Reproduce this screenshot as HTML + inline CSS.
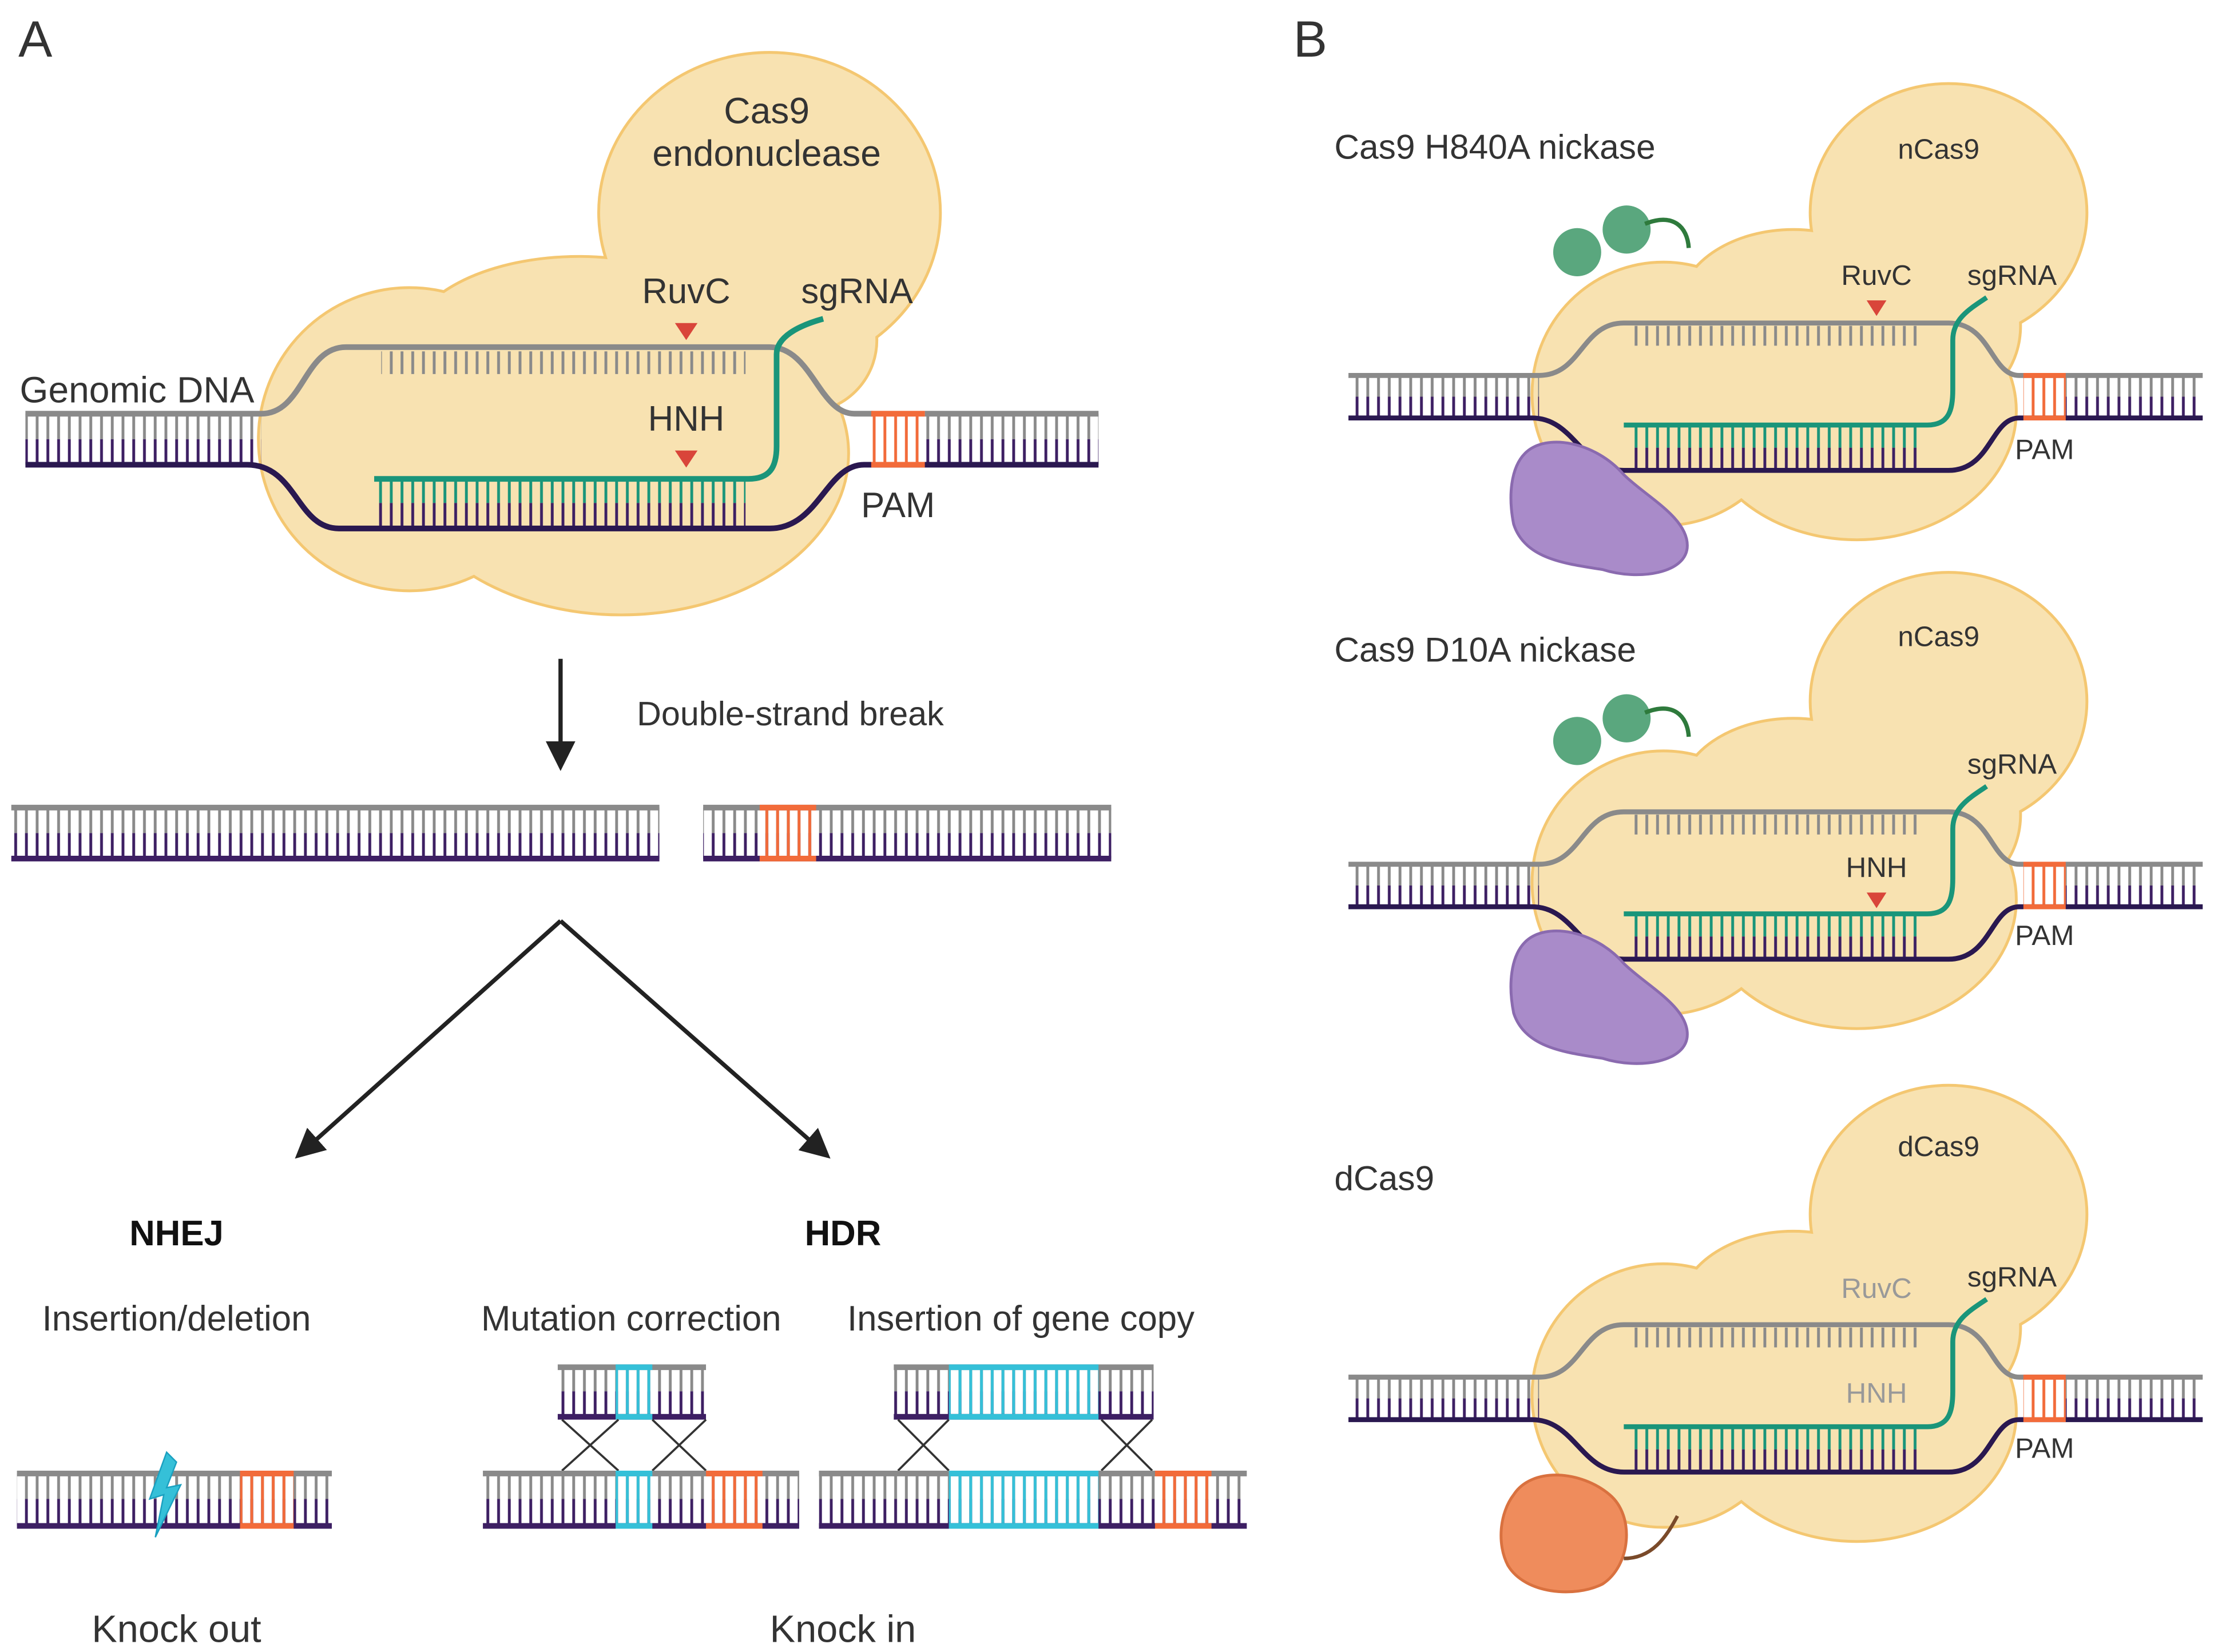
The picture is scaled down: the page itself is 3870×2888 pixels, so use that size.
<!DOCTYPE html>
<html><head><meta charset="utf-8"><style>
html,body{margin:0;padding:0;background:#fff;}
svg{display:block;}
text{font-family:"Liberation Sans",sans-serif;fill:#333;}
</style></head><body>
<svg width="3870" height="2888" viewBox="0 0 1568 1166" preserveAspectRatio="none" xmlns="http://www.w3.org/2000/svg">
<defs>
<pattern id="rg" width="7.6" height="2000" patternUnits="userSpaceOnUse"><rect x="2.5" y="0" width="2" height="2000" fill="#8a8a8a"/></pattern>
<pattern id="rp" width="7.6" height="2000" patternUnits="userSpaceOnUse"><rect x="2.5" y="0" width="2" height="2000" fill="#3d1f63"/></pattern>
<pattern id="rt" width="7.6" height="2000" patternUnits="userSpaceOnUse"><rect x="2.5" y="0" width="2" height="2000" fill="#1a957a"/></pattern>
<pattern id="ro" width="7.6" height="2000" patternUnits="userSpaceOnUse"><rect x="2.5" y="0" width="2" height="2000" fill="#f26b3a"/></pattern>
<pattern id="rc" width="7.6" height="2000" patternUnits="userSpaceOnUse"><rect x="2.5" y="0" width="2" height="2000" fill="#35c0d8"/></pattern>
<marker id="ah" viewBox="0 0 10 10" refX="8" refY="5" markerWidth="7" markerHeight="7" orient="auto"><path d="M0,0 L10,5 L0,10 z" fill="#222"/></marker>

<g id="blobB">
 <ellipse cx="1380" cy="150" rx="97" ry="90"/>
 <circle cx="1178" cy="278" r="92"/>
 <ellipse cx="1315" cy="290" rx="112" ry="90"/>
 <ellipse cx="1270" cy="218" rx="80" ry="55"/>
 <ellipse cx="1390" cy="230" rx="40" ry="50"/>
</g>
<g id="panel">
 <use href="#blobB" fill="#f4c771" stroke="#f4c771" stroke-width="4"/>
 <use href="#blobB" fill="#f8e2b1"/>
 <rect x="955" y="265" width="135" height="15" fill="url(#rg)"/>
 <rect x="955" y="280" width="135" height="15" fill="url(#rp)"/>
 <rect x="1155" y="230" width="205" height="14" fill="url(#rg)"/>
 <rect x="1155" y="300" width="205" height="16" fill="url(#rt)"/>
 <rect x="1155" y="316" width="205" height="16" fill="url(#rp)"/>
 <rect x="1463" y="265" width="97" height="15" fill="url(#rg)"/>
 <rect x="1463" y="280" width="97" height="15" fill="url(#rp)"/>
 <rect x="1433" y="265" width="30" height="30" fill="url(#ro)"/>
 <path d="M955,265 L1090,265 C1120,265 1120,228 1150,228 L1380,228 C1410,228 1410,265 1430,265 L1560,265" fill="none" stroke="#8a8a8a" stroke-width="3.5"/>
 <path d="M955,295 L1085,295 C1115,295 1120,332 1150,332 L1380,332 C1410,332 1410,295 1430,295 L1560,295" fill="none" stroke="#2a1850" stroke-width="3.5"/>
 <line x1="1433" y1="265" x2="1463" y2="265" stroke="#f26b3a" stroke-width="3.5"/>
 <line x1="1433" y1="295" x2="1463" y2="295" stroke="#f26b3a" stroke-width="3.5"/>
 <path d="M1150,300 L1365,300 C1380,300 1383,290 1383,275 L1383,240 C1383,225 1395,218 1407,210" fill="none" stroke="#1a957a" stroke-width="3.5"/>
</g>
<g id="green">
 <circle cx="1117" cy="178" r="17" fill="#5aa77e"/>
 <circle cx="1152" cy="162" r="17" fill="#5aa77e"/>
 <path d="M1165,158 C1185,150 1195,160 1196,175" fill="none" stroke="#2e7a3c" stroke-width="3"/>
</g>
<g id="purp">
 <path d="M1080,320 C1095,305 1130,312 1150,335 C1165,350 1195,365 1195,385 C1195,405 1160,410 1135,402 C1110,398 1080,395 1072,370 C1068,350 1070,330 1080,320z" fill="#a98bc9" stroke="#8a6aaf" stroke-width="2"/>
</g>
<g id="blobA">
 <ellipse cx="545" cy="150" rx="120" ry="112"/>
 <circle cx="290" cy="310" r="106"/>
 <ellipse cx="440" cy="320" rx="160" ry="113"/>
 <ellipse cx="410" cy="245" rx="120" ry="63"/>
 <ellipse cx="570" cy="240" rx="50" ry="50"/>
</g>
</defs>

<!-- ===== A ===== -->
<text x="13" y="40" font-size="36">A</text>
<use href="#blobA" fill="#f4c771" stroke="#f4c771" stroke-width="4"/>
<use href="#blobA" fill="#f8e2b1"/>
<text x="543" y="87" font-size="26" text-anchor="middle">Cas9</text>
<text x="543" y="117" font-size="26" text-anchor="middle">endonuclease</text>

<rect x="18" y="292" width="167" height="18" fill="url(#rg)"/>
<rect x="18" y="310" width="167" height="18" fill="url(#rp)"/>
<rect x="270" y="248" width="258" height="16" fill="url(#rg)"/>
<rect x="265" y="338" width="263" height="17" fill="url(#rt)"/>
<rect x="265" y="355" width="263" height="18" fill="url(#rp)"/>
<rect x="617" y="292" width="38" height="36" fill="url(#ro)"/>
<rect x="655" y="292" width="123" height="18" fill="url(#rg)"/>
<rect x="655" y="310" width="123" height="18" fill="url(#rp)"/>
<path d="M18,292 L185,292 C215,292 215,245 245,245 L545,245 C575,245 580,292 605,292 L618,292 M655,292 L778,292" fill="none" stroke="#8a8a8a" stroke-width="4"/>
<path d="M18,328 L175,328 C210,328 210,373 240,373 L545,373 C580,373 585,328 612,328 L778,328" fill="none" stroke="#2a1850" stroke-width="4"/>
<line x1="617" y1="292" x2="655" y2="292" stroke="#f26b3a" stroke-width="4"/>
<line x1="617" y1="328" x2="655" y2="328" stroke="#f26b3a" stroke-width="4"/>
<path d="M265,338 L530,338 C545,338 550,330 550,315 L550,250 C550,238 565,230 583,225" fill="none" stroke="#1a957a" stroke-width="4"/>
<path d="M478,228 L494,228 L486,240z" fill="#d9453a"/>
<path d="M478,318 L494,318 L486,330z" fill="#d9453a"/>
<text x="14" y="284" font-size="26">Genomic DNA</text>
<text x="486" y="214" font-size="25" text-anchor="middle">RuvC</text>
<text x="486" y="304" font-size="25" text-anchor="middle">HNH</text>
<text x="607" y="214" font-size="25" text-anchor="middle">sgRNA</text>
<text x="636" y="365" font-size="25" text-anchor="middle">PAM</text>

<line x1="397" y1="465" x2="397" y2="540" stroke="#222" stroke-width="3" marker-end="url(#ah)"/>
<text x="451" y="512" font-size="24">Double-strand break</text>

<rect x="8" y="570" width="459" height="18" fill="url(#rg)"/>
<rect x="8" y="588" width="459" height="18" fill="url(#rp)"/>
<line x1="8" y1="570" x2="467" y2="570" stroke="#8a8a8a" stroke-width="4"/>
<line x1="8" y1="606" x2="467" y2="606" stroke="#3d1f63" stroke-width="4"/>
<rect x="498" y="570" width="289" height="18" fill="url(#rg)"/>
<rect x="498" y="588" width="289" height="18" fill="url(#rp)"/>
<rect x="538" y="570" width="40" height="36" fill="url(#ro)"/>
<line x1="498" y1="570" x2="787" y2="570" stroke="#8a8a8a" stroke-width="4"/>
<line x1="538" y1="570" x2="578" y2="570" stroke="#f26b3a" stroke-width="4"/>
<line x1="498" y1="606" x2="787" y2="606" stroke="#3d1f63" stroke-width="4"/>
<line x1="538" y1="606" x2="578" y2="606" stroke="#f26b3a" stroke-width="4"/>

<line x1="397" y1="650" x2="212" y2="815" stroke="#222" stroke-width="3" marker-end="url(#ah)"/>
<line x1="397" y1="650" x2="585" y2="815" stroke="#222" stroke-width="3" marker-end="url(#ah)"/>

<text x="125" y="879" font-size="25" font-weight="bold" text-anchor="middle" style="fill:#111">NHEJ</text>
<text x="597" y="879" font-size="25" font-weight="bold" text-anchor="middle" style="fill:#111">HDR</text>
<text x="125" y="939" font-size="25" text-anchor="middle">Insertion/deletion</text>
<text x="447" y="939" font-size="25" text-anchor="middle">Mutation correction</text>
<text x="723" y="939" font-size="25" text-anchor="middle">Insertion of gene copy</text>

<!-- NHEJ dna -->
<rect x="12" y="1040" width="223" height="18" fill="url(#rg)"/>
<rect x="12" y="1058" width="223" height="19" fill="url(#rp)"/>
<rect x="170" y="1040" width="38" height="37" fill="url(#ro)"/>
<line x1="12" y1="1040" x2="235" y2="1040" stroke="#8a8a8a" stroke-width="4"/>
<line x1="12" y1="1077" x2="235" y2="1077" stroke="#3d1f63" stroke-width="4"/>
<line x1="170" y1="1040" x2="208" y2="1040" stroke="#f26b3a" stroke-width="4"/>
<line x1="170" y1="1077" x2="208" y2="1077" stroke="#f26b3a" stroke-width="4"/>
<path d="M118,1025 L106,1058 L116,1055 L110,1085 L128,1048 L118,1050 L125,1032z" fill="#35c0d8" stroke="#1aa0c0" stroke-width="1"/>

<!-- Mutation correction -->
<rect x="395" y="965" width="105" height="17" fill="url(#rg)"/>
<rect x="395" y="982" width="105" height="18" fill="url(#rp)"/>
<rect x="436" y="965" width="26" height="35" fill="url(#rc)"/>
<line x1="395" y1="965" x2="500" y2="965" stroke="#8a8a8a" stroke-width="4"/>
<line x1="436" y1="965" x2="462" y2="965" stroke="#35c0d8" stroke-width="4"/>
<line x1="395" y1="1000" x2="500" y2="1000" stroke="#3d1f63" stroke-width="4"/>
<line x1="436" y1="1000" x2="462" y2="1000" stroke="#35c0d8" stroke-width="4"/>
<path d="M398,1002 L438,1038 M438,1002 L398,1038 M462,1002 L500,1038 M500,1002 L462,1038" stroke="#333" stroke-width="1.5"/>
<rect x="342" y="1040" width="224" height="18" fill="url(#rg)"/>
<rect x="342" y="1058" width="224" height="19" fill="url(#rp)"/>
<rect x="436" y="1040" width="26" height="37" fill="url(#rc)"/>
<rect x="500" y="1040" width="40" height="37" fill="url(#ro)"/>
<line x1="342" y1="1040" x2="566" y2="1040" stroke="#8a8a8a" stroke-width="4"/>
<line x1="436" y1="1040" x2="462" y2="1040" stroke="#35c0d8" stroke-width="4"/>
<line x1="500" y1="1040" x2="540" y2="1040" stroke="#f26b3a" stroke-width="4"/>
<line x1="342" y1="1077" x2="566" y2="1077" stroke="#3d1f63" stroke-width="4"/>
<line x1="436" y1="1077" x2="462" y2="1077" stroke="#35c0d8" stroke-width="4"/>
<line x1="500" y1="1077" x2="540" y2="1077" stroke="#f26b3a" stroke-width="4"/>

<!-- Insertion of gene copy -->
<rect x="633" y="965" width="184" height="17" fill="url(#rg)"/>
<rect x="633" y="982" width="184" height="18" fill="url(#rp)"/>
<rect x="672" y="965" width="106" height="35" fill="url(#rc)"/>
<line x1="633" y1="965" x2="817" y2="965" stroke="#8a8a8a" stroke-width="4"/>
<line x1="672" y1="965" x2="778" y2="965" stroke="#35c0d8" stroke-width="4"/>
<line x1="633" y1="1000" x2="817" y2="1000" stroke="#3d1f63" stroke-width="4"/>
<line x1="672" y1="1000" x2="778" y2="1000" stroke="#35c0d8" stroke-width="4"/>
<path d="M636,1002 L672,1038 M672,1002 L636,1038 M780,1002 L816,1038 M816,1002 L780,1038" stroke="#333" stroke-width="1.5"/>
<rect x="580" y="1040" width="303" height="18" fill="url(#rg)"/>
<rect x="580" y="1058" width="303" height="19" fill="url(#rp)"/>
<rect x="672" y="1040" width="106" height="37" fill="url(#rc)"/>
<rect x="818" y="1040" width="40" height="37" fill="url(#ro)"/>
<line x1="580" y1="1040" x2="883" y2="1040" stroke="#8a8a8a" stroke-width="4"/>
<line x1="672" y1="1040" x2="778" y2="1040" stroke="#35c0d8" stroke-width="4"/>
<line x1="818" y1="1040" x2="858" y2="1040" stroke="#f26b3a" stroke-width="4"/>
<line x1="580" y1="1077" x2="883" y2="1077" stroke="#3d1f63" stroke-width="4"/>
<line x1="672" y1="1077" x2="778" y2="1077" stroke="#35c0d8" stroke-width="4"/>
<line x1="818" y1="1077" x2="858" y2="1077" stroke="#f26b3a" stroke-width="4"/>

<text x="125" y="1159" font-size="27" text-anchor="middle">Knock out</text>
<text x="597" y="1159" font-size="27" text-anchor="middle">Knock in</text>

<!-- ===== B ===== -->
<text x="916" y="40" font-size="36">B</text>

<use href="#panel"/>
<use href="#green"/>
<use href="#purp"/>
<text x="945" y="112" font-size="24.5">Cas9 H840A nickase</text>
<text x="1373" y="112" font-size="20" text-anchor="middle">nCas9</text>
<text x="1329" y="201" font-size="20" text-anchor="middle">RuvC</text>
<path d="M1322,212 L1336,212 L1329,223z" fill="#d9453a"/>
<text x="1425" y="201" font-size="20" text-anchor="middle">sgRNA</text>
<text x="1448" y="324" font-size="20" text-anchor="middle">PAM</text>

<g transform="translate(0,345)">
<use href="#panel"/>
<use href="#green"/>
<use href="#purp"/>
<path d="M1322,285 L1336,285 L1329,296z" fill="#d9453a"/>
</g>
<text x="945" y="467" font-size="24.5">Cas9 D10A nickase</text>
<text x="1373" y="456" font-size="20" text-anchor="middle">nCas9</text>
<text x="1425" y="546" font-size="20" text-anchor="middle">sgRNA</text>
<text x="1329" y="619" font-size="20" text-anchor="middle">HNH</text>
<text x="1448" y="667" font-size="20" text-anchor="middle">PAM</text>

<g transform="translate(0,707)">
<use href="#panel"/>
</g>
<path d="M1072,1055 C1085,1035 1120,1038 1140,1055 C1158,1070 1155,1105 1135,1118 C1115,1128 1080,1125 1068,1105 C1060,1090 1062,1068 1072,1055z" fill="#ef8c5c" stroke="#d9713f" stroke-width="2"/>
<path d="M1150,1100 C1170,1100 1180,1085 1188,1070" fill="none" stroke="#7a4a2a" stroke-width="2.5"/>
<text x="945" y="840" font-size="24.5">dCas9</text>
<text x="1373" y="816" font-size="20" text-anchor="middle">dCas9</text>
<text x="1329" y="916" font-size="20" text-anchor="middle" style="fill:#999">RuvC</text>
<text x="1425" y="908" font-size="20" text-anchor="middle">sgRNA</text>
<text x="1329" y="990" font-size="20" text-anchor="middle" style="fill:#999">HNH</text>
<text x="1448" y="1029" font-size="20" text-anchor="middle">PAM</text>
</svg>
</body></html>
